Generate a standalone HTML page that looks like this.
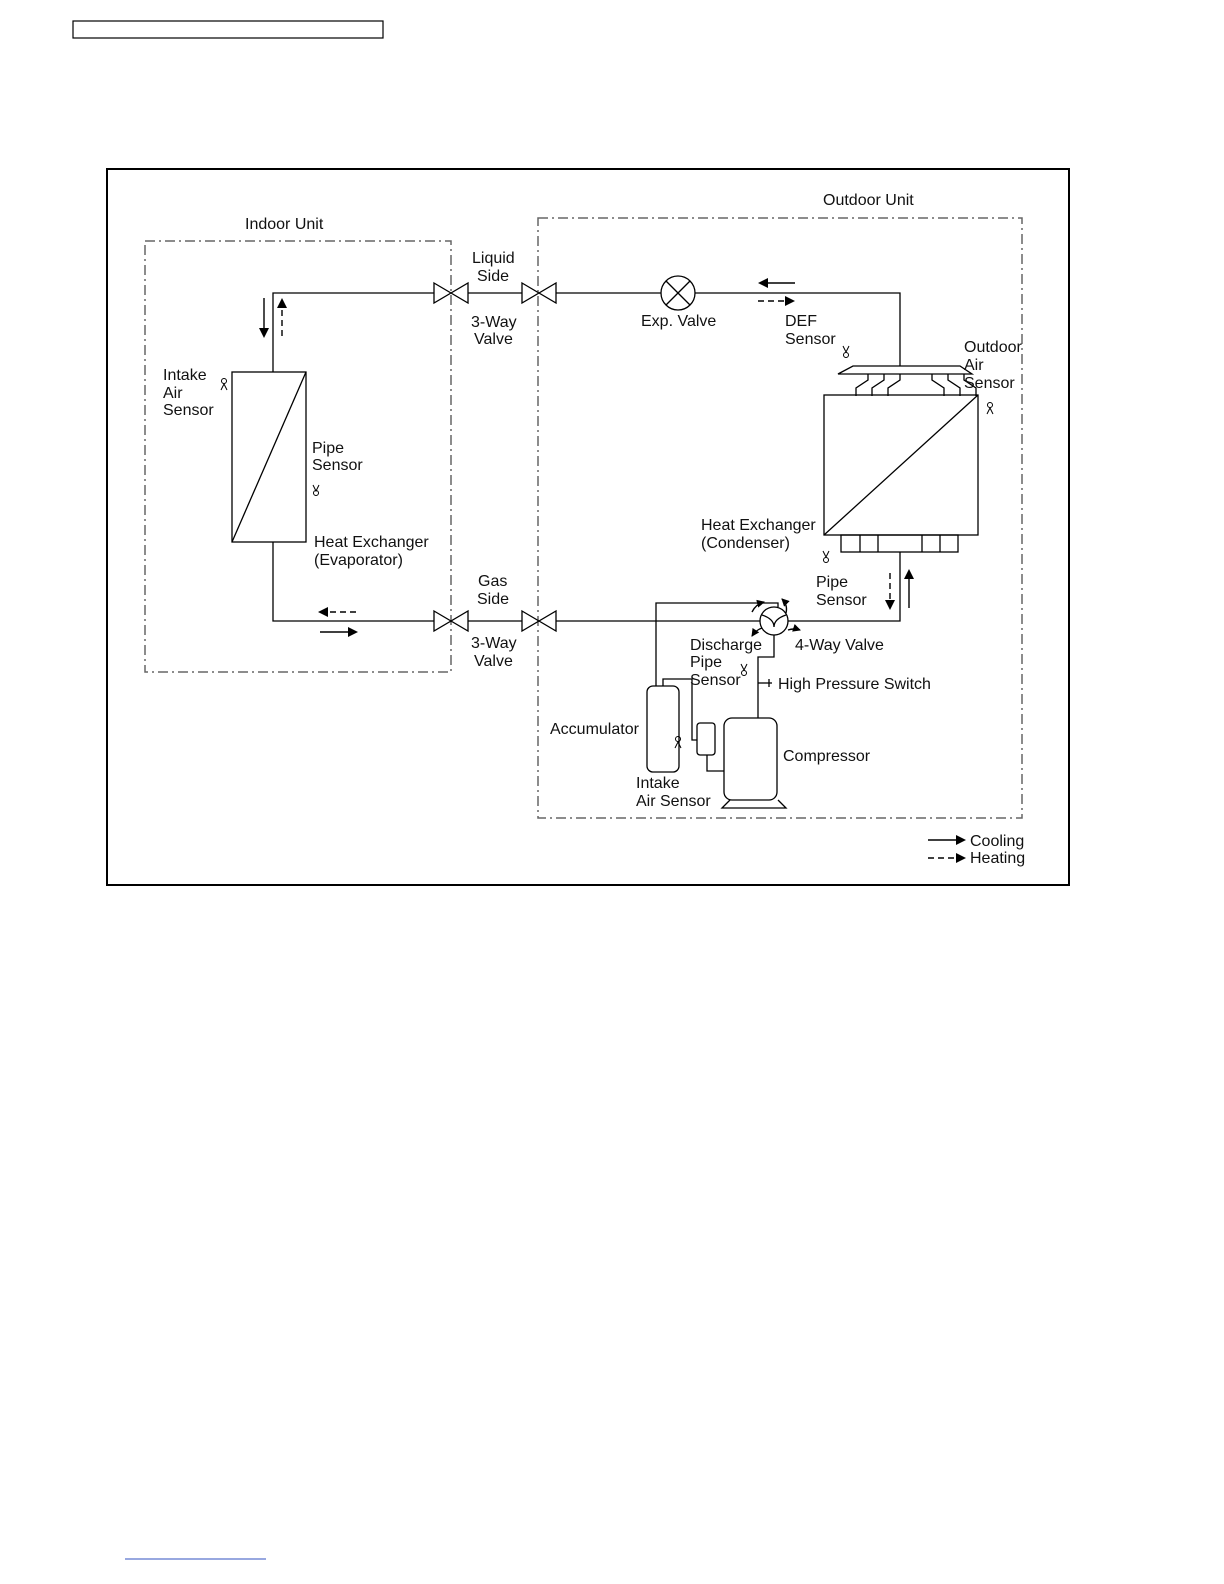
<!DOCTYPE html>
<html><head><style>body{margin:0;background:#fff}svg{display:block}text{font-family:"Liberation Sans",sans-serif;font-size:16px;fill:#111}</style></head><body>
<svg width="1224" height="1584" viewBox="0 0 1224 1584" xmlns="http://www.w3.org/2000/svg">
<defs><marker id="a" markerWidth="8" markerHeight="8" refX="7" refY="4" orient="auto" markerUnits="userSpaceOnUse"><path d="M0,0L8,4L0,8z" fill="#000"/></marker><marker id="b" markerWidth="10" markerHeight="10" refX="8" refY="5" orient="auto" markerUnits="userSpaceOnUse"><path d="M0,0L10,5L0,10z" fill="#000"/></marker></defs>
<rect x="73" y="21" width="310" height="17" fill="none" stroke="#000" stroke-width="1.2"/>
<line x1="125" y1="1559" x2="266" y2="1559" stroke="#3050c0" stroke-width="1"/>
<rect x="107" y="169" width="962" height="716" fill="none" stroke="#000" stroke-width="2"/>
<g fill="none" stroke="#666" stroke-width="1.5" stroke-dasharray="10,4,2,4">
<rect x="145" y="241" width="306" height="431"/>
<rect x="538" y="218" width="484" height="600"/>
</g>
<g fill="none" stroke="#000" stroke-width="1.3">
<polyline points="273,372 273,293 434,293"/><line x1="468" y1="293" x2="522" y2="293"/><line x1="556" y1="293" x2="661" y2="293"/><polyline points="695,293 900,293 900,366"/>
<polyline points="273,542 273,621 434,621"/><line x1="468" y1="621" x2="522" y2="621"/><line x1="556" y1="621" x2="760" y2="621"/><polyline points="788,621 900,621 900,552"/>
<path d="M434,283L468,303L468,283L434,303Z"/><path d="M522,283L556,303L556,283L522,303Z"/>
<path d="M434,611L468,631L468,611L434,631Z"/><path d="M522,611L556,631L556,611L522,631Z"/>
<circle cx="678" cy="293" r="17"/><line x1="666" y1="281" x2="690" y2="305"/><line x1="690" y1="281" x2="666" y2="305"/>
<rect x="232" y="372" width="74" height="170"/><line x1="232" y1="542" x2="306" y2="372"/>
<path d="M853,366L960,366L972,374L838,374Z"/>
<path d="M868,374v6l-12,8v8M884,374v6l-12,8v8M900,374v6l-12,8v8M932,374v6l12,8v8M948,374v6l12,8v8M964,374v6l12,8v8"/>
<rect x="824" y="395" width="154" height="140"/><line x1="824" y1="535" x2="978" y2="395"/>
<rect x="841" y="535" width="117" height="17"/><path d="M860,535v17M878,535v17M922,535v17M940,535v17"/>
<circle cx="774" cy="621" r="14"/>
<path d="M762,615q12,4 12,12M786,615q-12,4 -12,12"/>
<polyline points="656,686 656,603 778,603 778,607"/>
<polyline points="663,686 663,679 692,679 692,740 697,740"/>
<polyline points="774,635 774,657 758,657 758,718"/>
<line x1="758" y1="683" x2="772" y2="683"/><line x1="769" y1="679" x2="769" y2="687"/>
<rect x="647" y="686" width="32" height="86" rx="6"/>
<rect x="697" y="723" width="18" height="32" rx="3"/>
<polyline points="707,755 707,771 724,771"/>
<rect x="724" y="718" width="53" height="82" rx="8"/>
<path d="M730,800L722,808L786,808L778,800"/>
</g>
<g stroke="#000" stroke-width="1.4" fill="none">
<line x1="264" y1="298" x2="264" y2="336" marker-end="url(#b)"/>
<line x1="282" y1="336" x2="282" y2="300" stroke-dasharray="6,4" marker-end="url(#b)"/>
<line x1="795" y1="283" x2="760" y2="283" marker-end="url(#b)"/>
<line x1="758" y1="301" x2="793" y2="301" stroke-dasharray="6,4" marker-end="url(#b)"/>
<line x1="356" y1="612" x2="320" y2="612" stroke-dasharray="6,4" marker-end="url(#b)"/>
<line x1="320" y1="632" x2="356" y2="632" marker-end="url(#b)"/>
<line x1="890" y1="573" x2="890" y2="608" stroke-dasharray="6,4" marker-end="url(#b)"/>
<line x1="909" y1="608" x2="909" y2="571" marker-end="url(#b)"/>
<line x1="928" y1="840" x2="964" y2="840" marker-end="url(#b)"/>
<line x1="928" y1="858" x2="964" y2="858" stroke-dasharray="6,4" marker-end="url(#b)"/>
<path d="M752,612q4,-8 12,-10" marker-end="url(#a)"/><path d="M786,613q2,-8 -4,-14" marker-end="url(#a)"/>
<path d="M762,628q-6,2 -10,8" marker-end="url(#a)"/><path d="M788,630q6,-2 12,0" marker-end="url(#a)"/>
</g>
<g stroke="#000" fill="none" stroke-width="1">
<path d="M221,390l3,-6l3,6"/><circle cx="224" cy="381" r="2.5"/>
<path d="M987,414l3,-6l3,6"/><circle cx="990" cy="405" r="2.5"/>
<path d="M675,748l3,-6l3,6"/><circle cx="678" cy="739" r="2.5"/>
<path d="M313,485l3,6l3,-6"/><circle cx="316" cy="493" r="2.5"/>
<path d="M843,346l3,6l3,-6"/><circle cx="846" cy="355" r="2.5"/>
<path d="M823,551l3,6l3,-6"/><circle cx="826" cy="560" r="2.5"/>
<path d="M741,664l3,6l3,-6"/><circle cx="744" cy="673" r="2.5"/>
</g>
<text x="245" y="229" font-size="17">Indoor Unit</text>
<text x="823" y="205" font-size="17">Outdoor Unit</text>
<text x="472" y="263">Liquid</text><text x="477" y="281">Side</text>
<text x="471" y="327">3-Way</text><text x="474" y="344">Valve</text>
<text x="478" y="586">Gas</text><text x="477" y="604">Side</text>
<text x="471" y="648">3-Way</text><text x="474" y="666">Valve</text>
<text x="641" y="326">Exp. Valve</text>
<text x="785" y="326">DEF</text><text x="785" y="344">Sensor</text>
<text x="964" y="352">Outdoor</text><text x="964" y="370">Air</text><text x="964" y="388">Sensor</text>
<text x="163" y="380">Intake</text><text x="163" y="398">Air</text><text x="163" y="415">Sensor</text>
<text x="312" y="453">Pipe</text><text x="312" y="470">Sensor</text>
<text x="314" y="547">Heat Exchanger</text><text x="314" y="565">(Evaporator)</text>
<text x="701" y="530">Heat Exchanger</text><text x="701" y="548">(Condenser)</text>
<text x="816" y="587">Pipe</text><text x="816" y="605">Sensor</text>
<text x="690" y="650">Discharge</text><text x="690" y="667">Pipe</text><text x="690" y="685">Sensor</text>
<text x="795" y="650">4-Way Valve</text>
<text x="778" y="689">High Pressure Switch</text>
<text x="550" y="734">Accumulator</text>
<text x="783" y="761">Compressor</text>
<text x="636" y="788">Intake</text><text x="636" y="806">Air Sensor</text>
<text x="970" y="846">Cooling</text><text x="970" y="863">Heating</text>
</svg>
</body></html>
